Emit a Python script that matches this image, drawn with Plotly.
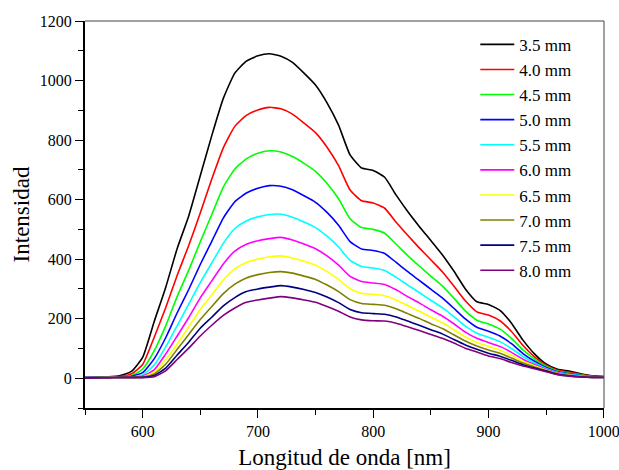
import plotly.graph_objects as go

wavelength = [550, 560, 570, 580, 590, 600, 610, 620, 630, 640, 650, 660, 670, 680, 690,
              700, 710, 720, 730, 740, 750, 760, 770, 780, 790, 800, 810, 820, 830, 840,
              850, 860, 870, 880, 890, 900, 910, 920, 930, 940, 950, 960, 970, 980, 990, 1000]

labels = ["3.5 mm", "4.0 mm", "4.5 mm", "5.0 mm", "5.5 mm",
          "6.0 mm", "6.5 mm", "7.0 mm", "7.5 mm", "8.0 mm"]

colors = ["#000000", "#FF0000", "#00FF00", "#0000FF", "#00FFFF",
          "#FF00FF", "#FFFF00", "#808000", "#000080", "#800080"]

s_35 = [3, 4, 5, 8, 22, 70, 190, 305, 436, 545, 680, 815, 940, 1025, 1065, 1083, 1090,
        1082, 1061, 1025, 985, 925, 850, 750, 706, 698, 675, 615, 560, 510, 463, 415, 360,
        300, 257, 248, 228, 185, 128, 82, 48, 30, 24, 15, 8, 6]
s_40 = [3, 3, 4, 6, 14, 46, 137, 237, 346, 446, 555, 669, 774, 846, 883, 901, 910,
        905, 887, 857, 825, 776, 714, 632, 596, 589, 571, 524, 480, 438, 398, 358, 310,
        260, 223, 212, 193, 157, 110, 72, 44, 27, 20, 13, 7, 6]
s_45 = [2, 3, 4, 5, 8, 31, 92, 176, 275, 363, 458, 550, 642, 703, 737, 756, 764,
        760, 745, 722, 695, 654, 603, 536, 506, 500, 487, 450, 412, 377, 343, 310, 269,
        226, 195, 182, 165, 134, 95, 64, 40, 24, 17, 11, 6, 5]
s_50 = [2, 3, 3, 5, 6, 19, 65, 136, 220, 298, 382, 460, 538, 593, 622, 638, 647,
        645, 633, 613, 591, 557, 514, 459, 434, 429, 419, 389, 358, 329, 299, 270, 235,
        199, 171, 158, 142, 116, 83, 57, 36, 22, 15, 9, 5, 5]
s_55 = [2, 2, 3, 4, 4, 11, 44, 105, 177, 249, 321, 387, 453, 503, 528, 542, 550,
        551, 541, 525, 506, 477, 441, 396, 375, 370, 362, 339, 313, 288, 262, 237, 207,
        175, 151, 138, 123, 100, 73, 51, 33, 20, 13, 8, 5, 4]
s_60 = [2, 2, 3, 4, 4, 7, 28, 81, 142, 204, 270, 327, 384, 427, 450, 462, 469,
        473, 464, 451, 435, 411, 380, 342, 325, 320, 315, 297, 274, 253, 230, 209, 183,
        155, 134, 120, 107, 87, 64, 46, 30, 18, 11, 7, 4, 4]
s_65 = [1, 2, 3, 3, 3, 4, 21, 62, 115, 173, 231, 280, 330, 367, 389, 400, 408,
        411, 404, 393, 380, 358, 332, 301, 285, 282, 277, 263, 244, 225, 205, 187, 163,
        139, 120, 107, 95, 77, 57, 42, 28, 16, 10, 6, 4, 4]
s_70 = [1, 2, 2, 3, 3, 4, 14, 47, 97, 147, 197, 241, 284, 316, 337, 348, 355,
        358, 353, 343, 332, 313, 291, 264, 251, 248, 245, 233, 217, 201, 183, 167, 146,
        125, 108, 95, 84, 68, 51, 38, 26, 15, 9, 5, 3, 3]
s_75 = [1, 2, 2, 3, 3, 3, 9, 34, 78, 121, 168, 205, 243, 271, 291, 300, 306,
        311, 306, 298, 288, 273, 254, 231, 220, 217, 215, 206, 192, 178, 163, 149, 130,
        112, 97, 84, 74, 60, 45, 34, 24, 13, 8, 5, 3, 3]
s_80 = [1, 1, 2, 2, 2, 2, 5, 25, 63, 101, 142, 178, 211, 236, 255, 263, 269,
        274, 270, 263, 255, 241, 225, 206, 196, 193, 192, 185, 173, 160, 147, 134, 118,
        101, 88, 75, 66, 53, 41, 32, 22, 12, 7, 4, 3, 3]

series = [s_35, s_40, s_45, s_50, s_55, s_60, s_65, s_70, s_75, s_80]

x_ticks = [600, 700, 800, 900, 1000]
y_ticks = [0, 200, 400, 600, 800, 1000, 1200]

FONT = "Liberation Serif"

fig = go.Figure()
for name, col, vals in zip(labels, colors, series):
    fig.add_trace(go.Scatter(x=wavelength, y=vals, mode="lines", name=name,
                             line=dict(color=col, width=1.6, shape="spline", smoothing=0.5)))

fig.update_layout(
    width=619, height=470,
    margin=dict(l=85, r=15, t=21, b=62, autoexpand=False),
    paper_bgcolor="white", plot_bgcolor="white",
    font=dict(family=FONT, color="black"),
    showlegend=True,
    legend=dict(x=0.752, y=0.985, xanchor="left", yanchor="top",
                font=dict(family=FONT, size=17, color="black"),
                bgcolor="rgba(0,0,0,0)", borderwidth=0, itemwidth=34,
                tracegroupgap=0),
)

fig.update_xaxes(
    range=[550, 1000.3], tickvals=x_ticks, ticks="outside", ticklen=8, tickwidth=1.3,
    tickcolor="black", showline=True, linecolor="black", linewidth=2, mirror=False,
    showgrid=False, zeroline=False, ticklabelstandoff=0, automargin=False,
    ticklabeloverflow="allow",
    tickfont=dict(family=FONT, size=16, color="black"),
    minor=dict(dtick=50, tick0=550, ticks="outside", ticklen=5, tickcolor="black", tickwidth=1.3, showgrid=False),
    title=dict(text="Longitud de onda [nm]", font=dict(family=FONT, size=23, color="black"), standoff=20),
)
fig.update_yaxes(
    range=[-100, 1200], tickvals=y_ticks, ticks="outside", ticklen=8, tickwidth=1.3,
    tickcolor="black", showline=True, linecolor="black", linewidth=2, mirror=False,
    showgrid=False, zeroline=False, automargin=False,
    tickfont=dict(family=FONT, size=16, color="black"),
    minor=dict(dtick=100, tick0=0, ticks="outside", ticklen=5, tickcolor="black", tickwidth=1.3, showgrid=False),
    title=dict(text="Intensidad", font=dict(family=FONT, size=23, color="black"), standoff=4),
)

# thin top and right frame lines
fig.add_shape(type="line", xref="paper", yref="paper", x0=0, x1=1, y0=1, y1=1,
              line=dict(color="#444444", width=1))
fig.add_shape(type="line", xref="paper", yref="paper", x0=1, x1=1, y0=0, y1=1,
              line=dict(color="#444444", width=1))

fig.write_html("out.html")
